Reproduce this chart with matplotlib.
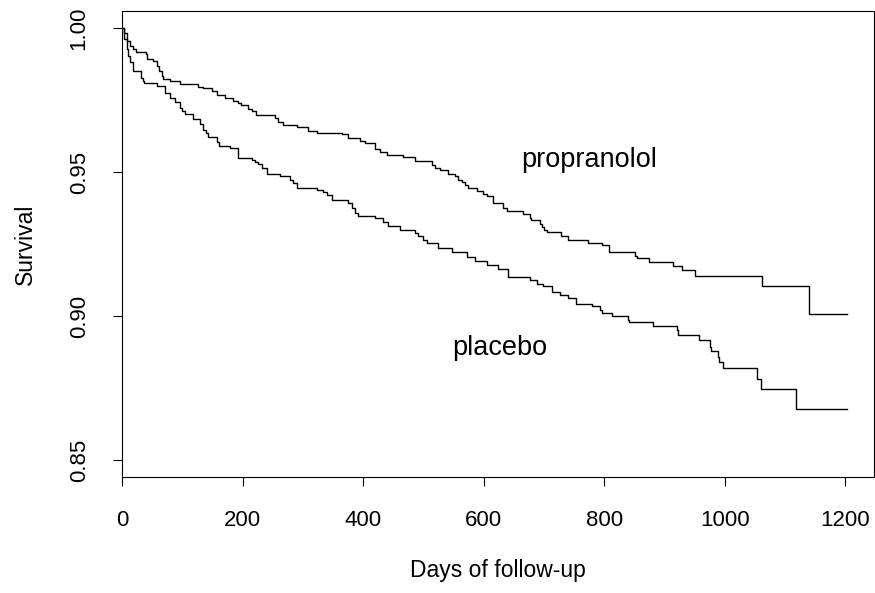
import matplotlib
matplotlib.use("Agg")
import matplotlib.pyplot as plt

plt.rcParams['font.family'] = ['Liberation Sans', 'DejaVu Sans']

# Kaplan-Meier estimates (days, survival)
prop_days = [0, 2.8, 7.3, 12.8, 17.2, 22.7, 39.3, 40.5, 51.5, 57.0, 61.4, 65.3, 68.1,
             79.2, 95.8, 126, 134.5, 148.3, 156.6, 170.4, 184.3, 192.5, 196.4, 209.1,
             214.7, 221.9, 253.4, 258.9, 267.2, 289.4, 308.7, 322.6, 364.1, 375.1,
             394.5, 402.8, 419.4, 427.6, 438.8, 466.3, 485.7, 513.4, 518.9, 527.2,
             541, 552.1, 557.6, 563.2, 568.7, 574.2, 588.1, 599.1, 604.7, 615.7,
             632.3, 637.9, 665.5, 676.6, 677.7, 693.2, 696, 699.8, 704.3, 727.5,
             740.1, 773.3, 795.5, 808.2, 850.8, 853.6, 874.6, 914.4, 928.3, 950.4,
             1062, 1140, 1202]
prop_surv = [1.0, 0.9985, 0.9956, 0.9938, 0.9927, 0.9918, 0.9911, 0.9894, 0.9886,
             0.9869, 0.9851, 0.9834, 0.9825, 0.9816, 0.9806, 0.9797, 0.9792, 0.9781,
             0.9769, 0.9757, 0.9747, 0.9739, 0.9732, 0.9720, 0.9711, 0.9700, 0.9688,
             0.9676, 0.9665, 0.9658, 0.9644, 0.9637, 0.9631, 0.9620, 0.9608, 0.9600,
             0.9581, 0.9570, 0.9560, 0.9553, 0.9539, 0.9526, 0.9516, 0.9507, 0.9495,
             0.9486, 0.9474, 0.9465, 0.9454, 0.9444, 0.9433, 0.9423, 0.9416, 0.9393,
             0.9375, 0.9365, 0.9354, 0.9341, 0.9333, 0.9321, 0.9310, 0.9300, 0.9293,
             0.9277, 0.9263, 0.9254, 0.9247, 0.9224, 0.9210, 0.9203, 0.9189, 0.9173,
             0.9159, 0.9140, 0.9103, 0.9008, 0.9008]

plac_days = [0, 2.8, 7.3, 10, 12.8, 17.2, 30.5, 33.8, 36, 57, 70.9, 79.2, 87.5, 95.8,
             98.6, 104, 117.9, 129, 134.5, 138.9, 142.8, 156.6, 161, 178.7, 192.5,
             214.7, 220.2, 225.7, 231.3, 239.6, 261.7, 278.3, 283.8, 289.4, 322.6,
             333.6, 339.2, 347.5, 375.1, 380.7, 386.2, 391.6, 419.4, 433.1, 441.4,
             460.8, 485.7, 491.2, 499.5, 505.1, 524.4, 546.6, 571.5, 585.3, 604.7,
             624, 640.6, 676.6, 687.7, 698.6, 712.6, 726.4, 740.1, 752.9, 778.9,
             792.7, 795.5, 812.1, 839.7, 841.4, 881.2, 920, 922.7, 957.5, 975.3,
             976.4, 989, 990.7, 996.3, 1052.8, 1059.4, 1118, 1202]
plac_surv = [1.0, 0.9962, 0.9927, 0.9904, 0.9881, 0.9851, 0.9828, 0.9817, 0.9811,
             0.9799, 0.9776, 0.9759, 0.9744, 0.9724, 0.9712, 0.9701, 0.9686, 0.9666,
             0.9648, 0.9637, 0.9623, 0.9604, 0.9590, 0.9583, 0.9550, 0.9542, 0.9535,
             0.9527, 0.9515, 0.9495, 0.9486, 0.9474, 0.9463, 0.9445, 0.9437, 0.9430,
             0.9420, 0.9405, 0.9393, 0.9376, 0.9358, 0.9349, 0.9340, 0.9326, 0.9314,
             0.9300, 0.9289, 0.9277, 0.9266, 0.9254, 0.9237, 0.9221, 0.9207, 0.9190,
             0.9179, 0.9164, 0.9136, 0.9124, 0.9112, 0.9103, 0.9085, 0.9075, 0.9063,
             0.9043, 0.9034, 0.9020, 0.9010, 0.9001, 0.8987, 0.8978, 0.8966, 0.8952,
             0.8936, 0.8918, 0.8894, 0.8880, 0.8859, 0.8841, 0.8818, 0.8783, 0.8748,
             0.8678, 0.8678]

x_ticks = [0, 200, 400, 600, 800, 1000, 1200]
y_ticks = [0.85, 0.90, 0.95, 1.00]
y_labels = ["0.85", "0.90", "0.95", "1.00"]

fig = plt.figure(figsize=(8.75, 5.93), dpi=100)
ax = fig.add_axes([0.1398, 0.1951, 0.8594, 0.7864])

ax.step(prop_days, prop_surv, where="post", color="black", lw=1.0)
ax.step(plac_days, plac_surv, where="post", color="black", lw=1.0)

ax.text(775, 0.9542, "propranolol", ha="center", va="center", fontsize=19.5)
ax.text(627, 0.8888, "placebo", ha="center", va="center", fontsize=19.5)

ax.set_xlim(0, 1248)
ax.set_ylim(0.844, 1.006)
ax.set_xticks(x_ticks)
ax.set_yticks(y_ticks)
ax.set_yticklabels(y_labels, rotation=90, va="center")
ax.tick_params(direction="out", length=6.5, width=0.8, pad=17, labelsize=16)
for s in ax.spines.values():
    s.set_linewidth(0.8)

ax.set_xlabel("Days of follow-up", fontsize=16.5, labelpad=20)
ax.set_ylabel("Survival", fontsize=16.5, labelpad=23)

fig.savefig("out.png", dpi=100)
